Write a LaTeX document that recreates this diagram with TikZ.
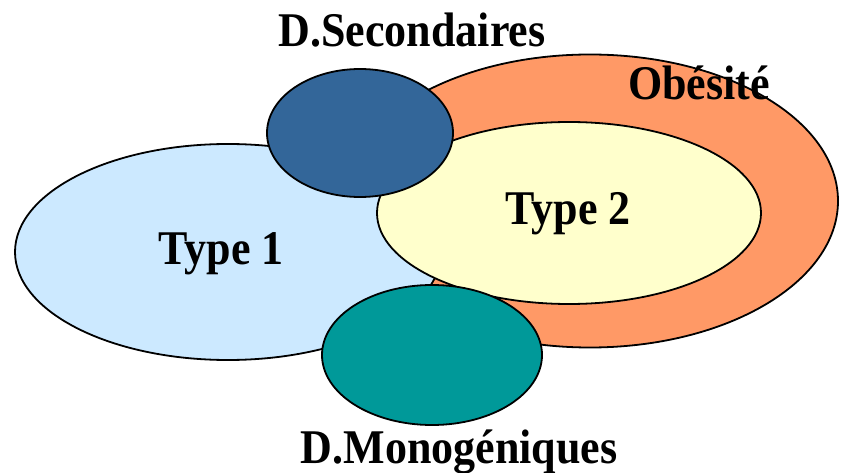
\documentclass[tikz,border=0pt]{standalone}
\usepackage{fontspec}
\setmainfont{Liberation Serif}
\usetikzlibrary{shapes.geometric}
\definecolor{obeseorange}{HTML}{FF9966}
\definecolor{typeoneblue}{HTML}{CCE9FF}
\definecolor{typetwoyellow}{HTML}{FFFFCC}
\definecolor{secblue}{HTML}{336699}
\definecolor{monoteal}{HTML}{009999}
\newcommand{\tallbold}[1]{\scalebox{1}[1.1]{#1}}
\tikzset{
  blob/.style={ellipse, draw=black, line width=1.8pt, inner sep=0pt},
  lbl/.style={font=\fontsize{44}{50}\selectfont\bfseries, anchor=base, inner sep=0pt}
}
\begin{document}
\begin{tikzpicture}[x=1pt,y=-1pt]
\useasboundingbox (0,0) rectangle (841,473);
\node[blob, fill=obeseorange, minimum width=496pt, minimum height=293pt] (obe) at (590,201) {};
\node[blob, fill=typeoneblue, minimum width=426pt, minimum height=216pt] (t1) at (228,252) {};
\node[blob, fill=typetwoyellow, minimum width=384pt, minimum height=182pt] (t2) at (569,213) {};
\node[blob, fill=secblue, minimum width=186pt, minimum height=128pt] (sec) at (360,133) {};
\node[blob, fill=monoteal, minimum width=220pt, minimum height=140pt] (mono) at (432,355) {};
\node[lbl] (lsec) at (412,47) {\tallbold{D.Secondaires}};
\node[lbl] (lobe) at (699,100) {\tallbold{Obésité}};
\node[lbl] (lt2) at (568,225) {\tallbold{Type 2}};
\node[lbl] (lt1) at (221,265) {\tallbold{Type 1}};
\node[lbl] (lmono) at (459,463) {\tallbold{D.Monogéniques}};
\end{tikzpicture}
\end{document}
